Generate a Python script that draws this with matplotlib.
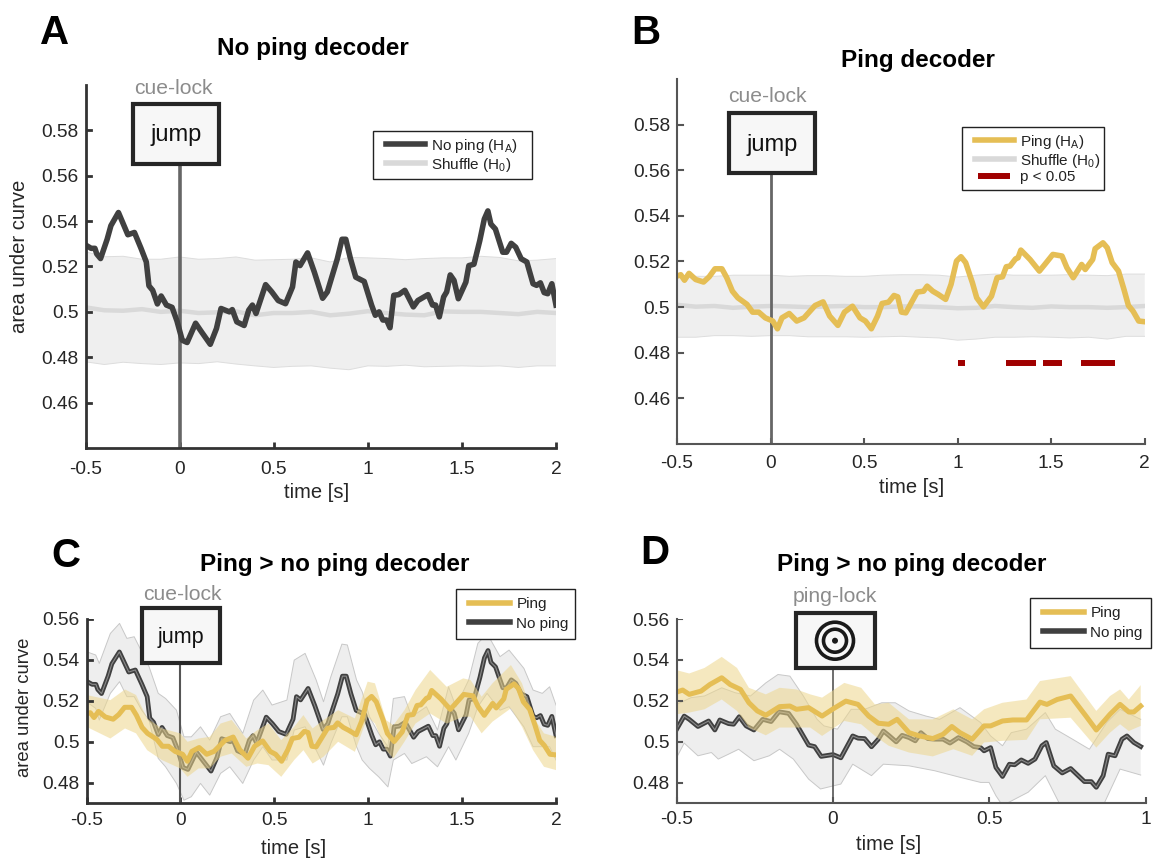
#! /usr/bin/env python
"""Decoding time courses for the no ping and ping conditions."""

import matplotlib
matplotlib.use('Agg')
import matplotlib.pyplot as plt
from matplotlib.legend_handler import HandlerLine2D
from matplotlib.lines import Line2D
from matplotlib.patches import Circle, Rectangle
from matplotlib.transforms import IdentityTransform

plt.rcParams['font.family'] = ['Liberation Sans', 'DejaVu Sans']
plt.rcParams['mathtext.default'] = 'regular'

W, H = 1153, 858
DARK = '#404040'
YELLOW = '#E5BE55'
SHUFFLE = '#D9D9D9'
RED = '#A00000'

# no ping decoder, cue-locked
noping_t = [-.5, -.47, -.45, -.44, -.42, -.385, -.365, -.325, -.275, -.24, -.205, -.177, -.163, -.143, -.118, -.098,
            -.07, -.04, -.014, .014, .04, .085, .118, .163, .196, .22, .265, .28, .304, .343, .367, .387, .406, .457,
            .49, .524, .563, .6, .618, .64, .68, .716, .76, .785, .838, .863, .883, .908, .936, .981, 1.02, 1.04, 1.06,
            1.08, 1.10, 1.118, 1.138, 1.164, 1.197, 1.242, 1.266, 1.32, 1.344, 1.36, 1.38, 1.403, 1.419, 1.438, 1.458,
            1.481, 1.521, 1.537, 1.564, 1.595, 1.619, 1.638, 1.654, 1.678, 1.717, 1.737, 1.762, 1.786, 1.815, 1.845,
            1.878, 1.897, 1.917, 1.937, 1.956, 1.978, 2.0]
noping_v = [.5295, .528, .528, .5255, .5235, .532, .538, .5438, .534, .535, .528, .522, .5115, .5095, .5035, .507,
            .503, .502, .496, .4875, .4865, .495, .491, .4857, .4927, .5015, .5, .501, .4956, .494, .5007, .503, .4993,
            .512, .5088, .505, .5036, .511, .522, .5204, .526, .5175, .506, .5088, .5234, .532, .532, .5234, .5153,
            .5134, .503, .4985, .5, .4964, .4964, .493, .5073, .5076, .5095, .5022, .505, .5076, .503, .503, .4978,
            .5066, .5088, .5163, .5139, .5058, .5131, .5204, .521, .5314, .5409, .5445, .5387, .5365, .5263, .5263,
            .5302, .5285, .5234, .522, .5124, .5117, .5128, .5085, .508, .5124, .503]

# ping decoder, cue-locked
ping_t = [-.5, -.48, -.46, -.436, -.40, -.358, -.328, -.297, -.26, -.234, -.204, -.175, -.126, -.096, -.063, -.028,
          .012, .037, .061, .1, .14, .179, .238, .281, .316, .36, .395, .438, .478, .507, .539, .572, .596, .631, .66,
          .68, .70, .723, .784, .818, .837, .867, .896, .936, .965, .994, 1.018, 1.043, 1.079, 1.102, 1.138, 1.181,
          1.211, 1.24, 1.26, 1.28, 1.31, 1.323, 1.338, 1.387, 1.437, 1.466, 1.509, 1.558, 1.584, 1.618, 1.663, 1.682,
          1.722, 1.735, 1.777, 1.80, 1.826, 1.86, 1.889, 1.913, 1.938, 1.968, 2.0]
ping_v = [.5136, .5142, .5118, .5148, .5121, .511, .5133, .5168, .5168, .5129, .507, .5041, .5012, .4978, .4978, .4953,
          .4939, .4905, .4953, .4972, .4939, .4953, .5007, .5023, .4961, .492, .4978, .5004, .4953, .4939, .4905, .4961,
          .5016, .5022, .5051, .5045, .4978, .4975, .5066, .507, .5092, .507, .5056, .5034, .51, .5202, .5221, .5195,
          .5107, .5041, .5001, .5048, .5129, .5133, .5177, .518, .5212, .5216, .525, .5209, .5158, .5187, .5231, .5224,
          .5173, .5129, .5187, .5165, .5209, .5256, .5282, .526, .5195, .5158, .5078, .5007, .4982, .4939, .4936]

# shuffle distributions
null_t = [-.5, -.4, -.3, -.2, -.1, 0, .1, .2, .3, .4, .5, .6, .7, .8, .9, 1, 1.1, 1.2, 1.3, 1.4, 1.5, 1.6, 1.7, 1.8, 1.9, 2]
null_a_up = [.5265, .5243, .5245, .5232, .5232, .5242, .5232, .5235, .5242, .5228, .523, .5232, .5238, .522, .524,
             .5238, .5235, .523, .5235, .5238, .5238, .5245, .524, .5225, .5228, .5235]
null_a_lo = [.478, .4768, .4778, .4772, .4768, .4775, .4772, .478, .477, .4762, .4755, .476, .4762, .4752, .4745,
             .4762, .476, .4765, .4758, .476, .4762, .476, .4762, .4755, .4762, .4762]
null_a_mean = [.502, .5007, .5005, .5012, .5, .5005, .4995, .4998, .5002, .4985, .4995, .4995, .5, .4985, .4992,
               .5003, .4995, .4988, .4985, .5002, .5, .5, .4995, .499, .5, .4995]
null_b_up = [.5135, .5135, .5135, .514, .514, .514, .5135, .5138, .5138, .5135, .5135, .514, .5142, .5142, .514,
             .5132, .514, .5145, .514, .514, .514, .5142, .514, .5138, .5145, .5145]
null_b_lo = [.4868, .4868, .4875, .4875, .4872, .4875, .4875, .487, .487, .487, .4868, .487, .4872, .4868, .4865,
             .4855, .486, .4868, .4868, .487, .4868, .4865, .4868, .486, .4872, .4872]
null_b_mean = [.501, .5002, .5005, .4997, .5002, .5005, .5003, .5, .5003, .5005, .5, .5, .5003, .5003, .5, .4995,
               .4997, .5005, .5, .4997, .5003, .5, .5, .4997, .5, .5005]

# significant clusters in B
sig_start = [1.0, 1.26, 1.456, 1.659]
sig_stop = [1.04, 1.417, 1.558, 1.84]
sig_level = .4755

# error bands in C
c_grey_t = [-.5, -.451, -.432, -.373, -.324, -.285, -.246, -.206, -.167, -.118, -.079, -.021, .019, .058, .107, .156,
            .214, .263, .332, .39, .439, .488, .567, .606, .664, .723, .762, .801, .86, .889, .938, .968, 1.007, 1.056,
            1.105, 1.134, 1.193, 1.232, 1.31, 1.369, 1.428, 1.467, 1.535, 1.584, 1.633, 1.702, 1.75, 1.829, 1.878,
            1.927, 1.966, 2.0]
c_grey_up = [.5439, .5423, .5382, .5528, .5577, .5504, .5512, .5439, .5366, .5236, .5211, .5154, .5024, .5024, .5073,
             .5008, .5122, .5138, .5041, .5203, .5252, .5179, .5203, .5398, .5431, .5301, .5195, .5317, .5476, .5472,
             .5301, .5244, .5122, .5041, .4976, .5211, .522, .5122, .5171, .5057, .5268, .5171, .5301, .548, .5528,
             .5415, .5447, .5358, .5252, .5236, .5268, .5179]
c_grey_lo = [.5195, .5163, .5106, .5236, .5293, .522, .522, .5154, .5106, .4919, .4878, .4797, .4715, .4732, .4797,
             .474, .4846, .4878, .4797, .4911, .4976, .4911, .4911, .5057, .5073, .4959, .4886, .4992, .5122, .5122,
             .4976, .4911, .487, .4829, .478, .4911, .4943, .4894, .4927, .4878, .4976, .4911, .5041, .5171, .5236,
             .5154, .5171, .5073, .4976, .4976, .4976, .4911]
c_ping_t = [-.5, -.373, -.295, -.236, -.177, -.099, -.001, .038, .097, .156, .214, .273, .351, .41, .469, .537, .606,
            .655, .704, .762, .84, .929, .997, 1.036, 1.095, 1.134, 1.193, 1.252, 1.33, 1.418, 1.506, 1.545, 1.604,
            1.662, 1.76, 1.819, 1.878, 1.936, 2.0]
c_ping_up = [.5228, .5203, .5255, .5228, .5114, .5065, .5041, .5, .5016, .5024, .5089, .5106, .5016, .5057, .5089,
             .5008, .5073, .513, .5065, .5106, .5154, .5114, .5293, .5285, .5106, .5081, .5154, .5252, .535, .5268,
             .5309, .5301, .522, .5285, .5374, .5285, .5122, .5041, .5024]
c_ping_lo = [.5073, .5016, .5065, .5041, .4959, .4911, .487, .4829, .487, .487, .4927, .4943, .4878, .4894, .4886,
             .4829, .4911, .4959, .4894, .4927, .5, .4951, .5122, .5089, .4959, .4919, .5, .5089, .5138, .5089, .5122,
             .5122, .5041, .5098, .5163, .5073, .4959, .4878, .4862]

# ping-locked series in D
d_ping_t = [-.5, -.481, -.46, -.422, -.394, -.356, -.329, -.296, -.269, -.242, -.215, -.193, -.171, -.138, -.117,
            -.078, -.035, -.002, .041, .08, .114, .145, .178, .205, .243, .276, .319, .352, .38, .406, .445, .483, .504,
            .542, .575, .619, .662, .684, .717, .76, .809, .842, .886, .918, .946, .962, .984]
d_ping_v = [.5243, .5253, .5232, .5248, .528, .5313, .528, .5256, .5191, .5151, .513, .5151, .5172, .5175, .5159,
            .5167, .5126, .5159, .5199, .5183, .5126, .5091, .5086, .511, .5045, .5029, .5016, .5037, .5075, .5045,
            .5013, .5078, .5078, .5102, .5107, .5107, .5194, .5183, .5207, .5224, .5126, .5058, .5135, .5183, .5146,
            .5146, .5175]
d_band_t = [-.5, -.46, -.411, -.356, -.307, -.269, -.215, -.171, -.117, -.073, -.035, .036, .09, .134, .178, .243, .319,
            .385, .445, .483, .542, .619, .662, .76, .842, .886, .918, .946, .984]
d_band_up = [.535, .5334, .5361, .5415, .5361, .5264, .5232, .5264, .5256, .5232, .5216, .5288, .5264, .5183, .5191,
             .511, .511, .5159, .511, .5159, .5191, .5207, .5297, .5321, .5151, .5224, .5256, .5207, .5277]
d_band_lo = [.5135, .5143, .5159, .5207, .5151, .507, .5032, .507, .507, .507, .5029, .5102, .5086, .5029, .4981, .4948,
             .4929, .4964, .4932, .4997, .5005, .501, .511, .5118, .4972, .5045, .5086, .5053, .5078]
d_noping_t = [-.5, -.476, -.46, -.432, -.398, -.378, -.362, -.334, -.318, -.3, -.278, -.253, -.225, -.198, -.173, -.142,
              -.117, -.078, -.059, -.038, 0, .025, .063, .08, .101, .123, .145, .161, .178, .202, .221, .243, .263, .281,
              .303, .325, .352, .374, .401, .428, .45, .472, .483, .504, .521, .542, .564, .581, .602, .624, .646, .668,
              .682, .706, .733, .76, .804, .826, .842, .864, .88, .902, .924, .94, .962, .984]
d_noping_v = [.5062, .5126, .511, .5075, .5102, .5058, .5107, .5089, .5086, .5123, .5078, .5058, .511, .5099, .5147,
              .5139, .5086, .4984, .4977, .4929, .4938, .4922, .5029, .5018, .5016, .4976, .5013, .5053, .5032, .5,
              .5032, .5021, .5005, .5045, .5016, .5013, .5013, .4994, .5021, .5, .4977, .4972, .4956, .4972, .4875,
              .4831, .4891, .4888, .4912, .4895, .4916, .4981, .4997, .4883, .4848, .487, .4806, .4806, .4778, .4835,
              .494, .4932, .5013, .5029, .4997, .4977]
d_grey_up_t = [-.5, -.454, -.411, -.356, -.313, -.264, -.215, -.176, -.138, -.095, -.051, -.029, .014, .058, .101, .156,
               .199, .243, .297, .341, .406, .472, .504, .542, .57, .619, .679, .711, .766, .82, .875, .918, .984]
d_grey_up = [.5183, .5216, .5224, .5264, .524, .5224, .5288, .5329, .5321, .5224, .511, .5078, .5062, .5159, .5159,
             .5191, .5191, .5151, .5126, .511, .5167, .5094, .5029, .4981, .5045, .5062, .5143, .5062, .5013, .4964,
             .5094, .5159, .511]
d_grey_lo_t = [-.5, -.476, -.432, -.389, -.367, -.334, -.302, -.253, -.204, -.171, -.127, -.078, -.04, .025, .063, .123,
               .161, .243, .325, .406, .472, .499, .521, .542, .624, .679, .722, .788, .864, .918, .984]
d_grey_lo = [.4924, .4994, .4932, .4948, .4916, .494, .4964, .4908, .4932, .4964, .4916, .4818, .477, .4794, .4891,
             .4835, .4891, .4883, .4859, .4827, .4802, .4802, .4737, .4689, .4754, .4835, .4705, .4656, .4689, .4867,
             .4838]

xticks_cue = [-.5, 0, .5, 1, 1.5, 2]
xlabels_cue = ['-0.5', '0', '0.5', '1', '1.5', '2']
xticks_ping = [-.5, 0, .5, 1]
xlabels_ping = ['-0.5', '0', '0.5', '1']
yticks_wide = [.46, .48, .5, .52, .54, .56, .58]
ylabels_wide = ['0.46', '0.48', '0.5', '0.52', '0.54', '0.56', '0.58']
yticks_narrow = [.48, .5, .52, .54, .56]
ylabels_narrow = ['0.48', '0.5', '0.52', '0.54', '0.56']

fig = plt.figure(figsize=(W / 100, H / 100), dpi=100)


def make_axes(left, right, top, bottom, xlim, ylim, xticks, xlabels, yticks, ylabels, spine_lw, spine_col, xpad):
    """Axes placed by pixel edges, MATLAB style ticks."""
    ax = fig.add_axes([left / W, 1 - bottom / H, (right - left) / W, (bottom - top) / H])
    ax.set_xlim(xlim)
    ax.set_ylim(ylim)
    ax.set_xticks(xticks, xlabels)
    ax.set_yticks(yticks, ylabels)
    ax.patch.set_visible(False)
    ax.spines['top'].set_visible(False)
    ax.spines['right'].set_visible(False)
    for side in ['left', 'bottom']:
        ax.spines[side].set_linewidth(spine_lw)
        ax.spines[side].set_color(spine_col)
        ax.spines[side].set_zorder(6)
    ax.tick_params(direction='in', length=4.5, width=spine_lw, color=spine_col,
                   labelsize=13.8, labelcolor='#262626', pad=xpad)
    ax.tick_params(axis='y', direction='out', length=0, pad=5)
    for y in yticks:
        ax.plot([0, .012], [y, y], transform=ax.get_yaxis_transform(), color=spine_col, lw=spine_lw, zorder=6)
    return ax


def ftext(x, y, s, **kw):
    fig.text(x / W, 1 - y / H, s, ha='center', va='center', **kw)


def band(ax, t_up, up, t_lo, lo, face, edge, alpha=1.0):
    ax.fill(list(t_up) + list(t_lo[::-1]), list(up) + list(lo[::-1]), color=face, alpha=alpha, lw=0, zorder=1)
    if edge:
        ax.plot(t_up, up, color=edge, lw=.7, zorder=1.5)
        ax.plot(t_lo, lo, color=edge, lw=.7, zorder=1.5)


def cue_box(x0, x1, y0, y1, lock, lock_x, lock_y, word=None, fs=17, lw=3.0):
    box = Rectangle((x0, H - y1), x1 - x0, y1 - y0, transform=IdentityTransform(),
                    facecolor='#F7F7F7', edgecolor='#262626', lw=lw, zorder=8)
    fig.add_artist(box)
    ftext(lock_x, lock_y, lock, color='#8C8C8C', fontsize=15.2)
    if word:
        ftext((x0 + x1) / 2, (y0 + y1) / 2 + 1.5, word, color='#111111', fontsize=fs, zorder=9)


def dark_line(ax, t, v, zo=3):
    ax.plot(t, v, color=DARK, lw=3.4, solid_joinstyle='round', zorder=zo)
    ax.plot(t, v, color='#8A8A8A', lw=.8, solid_joinstyle='round', zorder=zo)


def add_legend(ax, handles, labels, x0, x1, y0, y1, spacing=.35, pad=.55, fs=11, xpad=.45):
    leg = ax.legend(handles, labels, loc='upper left',
                    bbox_to_anchor=(x0 / W, 1 - y1 / H, (x1 - x0) / W, (y1 - y0) / H),
                    bbox_transform=fig.transFigure, mode='expand', borderaxespad=0, fancybox=False,
                    edgecolor='#222222', framealpha=1, fontsize=fs, handlelength=3.0, handletextpad=.4,
                    labelspacing=spacing, borderpad=pad, numpoints=1, labelcolor='#222222',
                    handler_map={Line2D: HandlerLine2D(xpad=xpad)})
    leg.get_frame().set_linewidth(1.0)
    leg.set_zorder(10)


# A
ax = make_axes(85.5, 556, 85, 448, (-.5, 2), (.44, .6), xticks_cue, xlabels_cue, yticks_wide, ylabels_wide, 2.0, '#333333', 9.5)
band(ax, null_t, null_a_up, null_t, null_a_lo, '#EFEFEF', '#DDDDDD')
ax.plot(null_t, null_a_mean, color=SHUFFLE, lw=3.2, zorder=2)
ax.axvline(0, 0, (448 - 164) / 363, color='#666666', lw=2.6, zorder=2.5)
ax.plot(noping_t, noping_v, color=DARK, lw=4.0, solid_joinstyle='round', zorder=3)
add_legend(ax, [Line2D([], [], color=DARK, lw=4.0), Line2D([], [], color=SHUFFLE, lw=4.0)],
           ['No ping (H$_{A}$)', 'Shuffle (H$_{0}$)'], 373, 532, 131, 181, spacing=.05, pad=.38)
cue_box(133, 219, 104, 164, 'cue-lock', 173, 88, word='jump')
ftext(313, 49, 'No ping decoder', fontweight='bold', fontsize=17.5, color='black')
ftext(317, 492, 'time [s]', fontsize=14.5, color='#262626')
ftext(20, 256, 'area under curve', rotation=90, fontsize=14.6, color='#262626')
ftext(55, 33, 'A', fontweight='bold', fontsize=29, color='black')

# B
ax = make_axes(677, 1144.7, 79, 444, (-.5, 2), (.44, .6), xticks_cue, xlabels_cue, yticks_wide, ylabels_wide, 1.5, '#555555', 8)
band(ax, null_t, null_b_up, null_t, null_b_lo, '#EFEFEF', '#DDDDDD')
ax.plot(null_t, null_b_mean, color=SHUFFLE, lw=3.2, zorder=2)
ax.axvline(0, 0, (444 - 173) / 365, color='#666666', lw=2.0, zorder=2.5)
ax.plot(ping_t, ping_v, color=YELLOW, lw=4.0, solid_joinstyle='round', zorder=3)
ax.hlines([sig_level] * len(sig_start), sig_start, sig_stop, color=RED, lw=4.3, zorder=3)
add_legend(ax, [Line2D([], [], color=YELLOW, lw=4.0), Line2D([], [], color=SHUFFLE, lw=4.0),
                Line2D([], [], ls='none', marker='_', ms=23, mew=4.3, color=RED)],
           ['Ping (H$_{A}$)', 'Shuffle (H$_{0}$)', 'p < 0.05'], 962, 1104, 127, 194, spacing=.05, pad=.38)
cue_box(729, 815, 113, 173, 'cue-lock', 767, 96, word='jump')
ftext(918, 60, 'Ping decoder', fontweight='bold', fontsize=17.5, color='black')
ftext(912, 488, 'time [s]', fontsize=14.5, color='#262626')
ftext(646, 33, 'B', fontweight='bold', fontsize=29, color='black')

# C
ax = make_axes(86.5, 556, 618.7, 803.3, (-.5, 2), (.47, .56), xticks_cue, xlabels_cue, yticks_narrow, ylabels_narrow, 2.0, '#333333', 6)
band(ax, c_grey_t, c_grey_up, c_grey_t, c_grey_lo, '#EEEEEE', '#C8C8C8')
dark_line(ax, noping_t, noping_v)
ax.axvline(0, 0, (803.3 - 663) / 184.6, color='#555555', lw=1.5, zorder=3.5)
ax.fill(c_ping_t + c_ping_t[::-1], c_ping_up + c_ping_lo[::-1], color='#EDD68C', alpha=.55, lw=0, zorder=4)
ax.plot(ping_t, ping_v, color=YELLOW, lw=3.6, solid_joinstyle='round', zorder=5)
add_legend(ax, [Line2D([], [], color=YELLOW, lw=4.0), Line2D([], [], color=DARK, lw=4.0)], ['Ping', 'No ping'], 456, 575, 589, 640, xpad=.3)
cue_box(142, 220, 608, 663, 'cue-lock', 182, 595, word='jump', fs=15.5)
ftext(335, 565, 'Ping > no ping decoder', fontweight='bold', fontsize=17.5, color='black')
ftext(294, 848, 'time [s]', fontsize=14.5, color='#262626')
ftext(25, 707, 'area under curve', rotation=90, fontsize=13.3, color='#262626')
ftext(66, 556, 'C', fontweight='bold', fontsize=29, color='black')

# D
ax = make_axes(676.7, 1145.7, 619, 803.3, (-.5, 1), (.47, .56), xticks_ping, xlabels_ping, yticks_narrow, ylabels_narrow, 1.5, '#555555', 5.5)
band(ax, d_grey_up_t, d_grey_up, d_grey_lo_t, d_grey_lo, '#EEEEEE', '#C8C8C8')
dark_line(ax, d_noping_t, d_noping_v)
ax.axvline(0, 0, (803.3 - 668) / 184.3, color='#555555', lw=1.2, zorder=3.5)
ax.fill(d_band_t + d_band_t[::-1], d_band_up + d_band_lo[::-1], color='#EDD68C', alpha=.55, lw=0, zorder=4)
ax.plot(d_ping_t, d_ping_v, color=YELLOW, lw=3.6, solid_joinstyle='round', zorder=5)
add_legend(ax, [Line2D([], [], color=YELLOW, lw=4.0), Line2D([], [], color=DARK, lw=4.0)], ['Ping', 'No ping'], 1030, 1151, 598, 648, xpad=.3)
cue_box(796, 875, 613, 668, 'ping-lock', 835, 596)
for r, lw_ring in [(18.5, 2.6), (11.5, 2.6)]:
    fig.add_artist(Circle((835, H - 640.7), r, transform=IdentityTransform(), facecolor='none',
                          edgecolor='#1A1A1A', lw=lw_ring, zorder=9))
fig.add_artist(Circle((835, H - 640.7), 3, transform=IdentityTransform(), facecolor='#1A1A1A', lw=0, zorder=9))
ftext(912, 564, 'Ping > no ping decoder', fontweight='bold', fontsize=17.5, color='black')
ftext(889, 845, 'time [s]', fontsize=14.5, color='#262626')
ftext(655, 553, 'D', fontweight='bold', fontsize=29, color='black')

fig.savefig('out.png', dpi=100)
